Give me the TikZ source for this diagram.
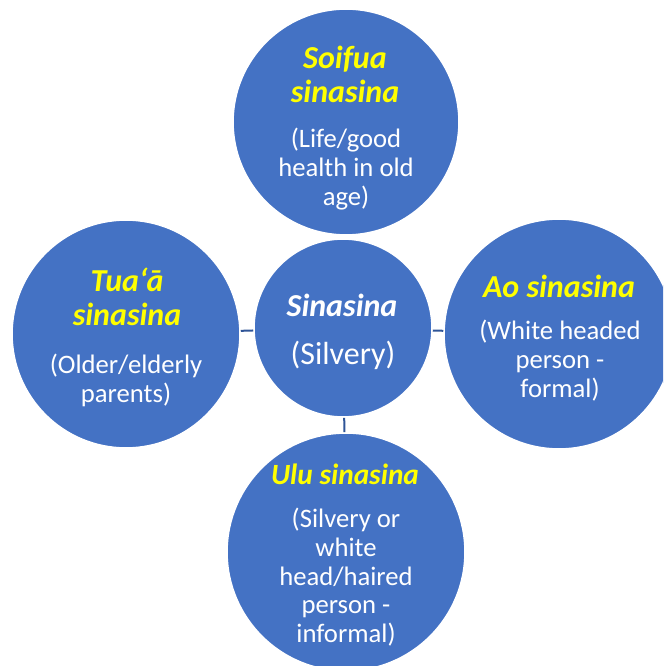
\documentclass[tikz,border=0pt]{standalone}
\usepackage{fontspec}
\setmainfont{Carlito}
\definecolor{bubble}{HTML}{4472C4}
\definecolor{link}{HTML}{2F5597}
\definecolor{headyellow}{HTML}{FFFF00}
\tikzset{
  bubble/.style={circle, fill=bubble, draw=white, line width=1.2pt, inner sep=0pt},
  link/.style={draw=link, line width=1.5pt},
  head/.style={anchor=north, align=center, inner sep=0pt, text=headyellow,
    font=\fontsize{24}{25.5}\selectfont\bfseries\itshape},
  body/.style={anchor=north, align=center, inner sep=0pt, text=white,
    font=\fontsize{20}{21.5}\selectfont},
}
\begin{document}
\begin{tikzpicture}[x=0.75pt, y=-0.75pt]
  \useasboundingbox (0,0) rectangle (663,666);
  \clip (0,0) rectangle (663,666);

  % circles
  \node[bubble, minimum size=169.5pt] (top)    at (346,122) {};
  \node[bubble, minimum size=171pt]   (left)   at (126,334) {};
  \node[bubble, minimum size=133.5pt] (centre) at (343,328) {};
  \node[bubble, minimum size=172.5pt] (right)  at (559,334) {};
  \node[bubble, minimum size=178.5pt] (bottom) at (346,552) {};

  % short connectors to the centre
  \draw[link] (left) -- (centre);
  \draw[link] (centre) -- (right);
  \draw[link] (centre) -- (bottom);

  % texts
  \node[head] (topH) at (345,46) {Soifua\\sinasina};
  \node[body] (topB) at (346,128) {(Life/good\\health in old\\age)};

  \node[head] (leftH) at (127,268) {Tua‘ā\\sinasina};
  \node[body] (leftB) at (126,354) {(Older/elderly\\parents)};

  \node[head, text=white] (centreH) at (342,294) {Sinasina};
  \node[body, font=\fontsize{24}{26}\selectfont] (centreB) at (343,341) {(Silvery)};

  \node[head] (rightH) at (559,275) {Ao sinasina};
  \node[body] (rightB) at (560,320) {(White headed\\person -\\formal)};

  \node[head, font=\fontsize{22}{24}\selectfont\bfseries\itshape] (bottomH) at (345,464) {Ulu sinasina};
  \node[body] (bottomB) at (346,508) {(Silvery or\\white\\head/haired\\person -\\informal)};
\end{tikzpicture}
\end{document}
